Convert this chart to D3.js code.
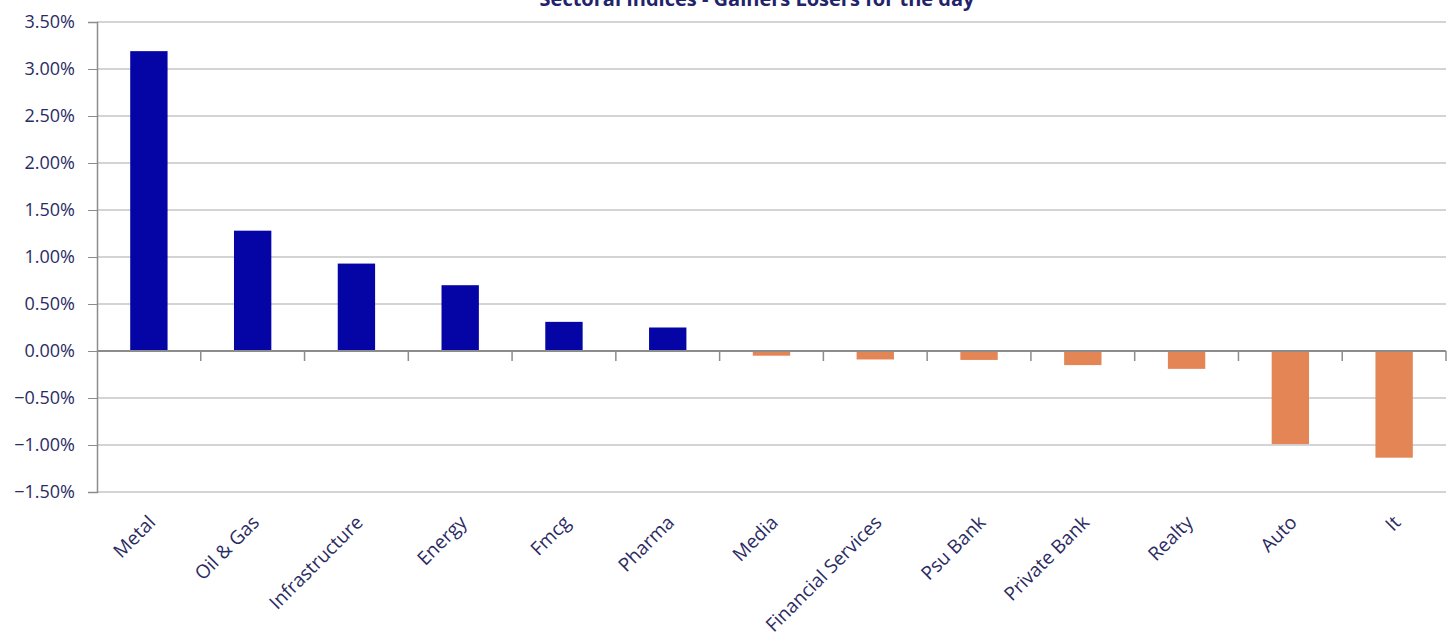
<!DOCTYPE html>
<html>
<head>
<meta charset="utf-8">
<script src="https://cdn.jsdelivr.net/npm/d3@7"></script>
<style>
  body { margin: 0; background: #fff; }
  svg { display: block; font-family: "Open Sans", "Noto Sans", sans-serif; }
</style>
</head>
<body>
<div id="chart"></div>
<script>
// sectors, in the order shown
var sectors = ["Metal", "Oil & Gas", "Infrastructure", "Energy", "Fmcg", "Pharma",
    "Media", "Financial Services", "Psu Bank", "Private Bank", "Realty", "Auto", "It"];
// daily change in percent
var changes = [3.19, 1.28, 0.93, 0.70, 0.31, 0.25,
    -0.05, -0.09, -0.095, -0.15, -0.19, -0.99, -1.135];
var yTicks = [-1.5, -1.0, -0.5, 0, 0.5, 1.0, 1.5, 2.0, 2.5, 3.0, 3.5];

var width = 1453, height = 636;
var plotLeft = 97, plotRight = 1446, plotTop = 22, plotBottom = 492;

var svg = d3.select("#chart")
    .append("svg")
    .attr("width", width)
    .attr("height", height);

var x = d3.scaleBand()
    .domain(sectors)
    .range([plotLeft, plotRight])
    .paddingInner(0.64)
    .paddingOuter(0.32);

var y = d3.scaleLinear()
    .domain([-1.5, 3.5])
    .range([plotBottom, plotTop]);

var textColor = "#2b2b63";

// title (partly cut off at the top)
svg.append("text")
    .attr("x", 757)
    .attr("y", 6)
    .attr("text-anchor", "middle")
    .style("font-size", "20px")
    .style("font-weight", "bold")
    .attr("fill", "#23236b")
    .text("Sectoral Indices - Gainers Losers for the day");

// gridlines
svg.append("g")
    .selectAll("line")
    .data(yTicks.filter(function(d) { return d !== 0; }))
    .enter()
    .append("line")
    .attr("x1", plotLeft)
    .attr("x2", plotRight)
    .attr("y1", function(d) { return y(d); })
    .attr("y2", function(d) { return y(d); })
    .attr("stroke", "#a9a9a9")
    .attr("stroke-width", 1);

// y axis
var yAxis = svg.append("g")
    .attr("transform", "translate(" + plotLeft + ",0)")
    .call(d3.axisLeft(y)
        .tickValues(yTicks)
        .tickSize(9)
        .tickPadding(13)
        .tickFormat(function(d) { return d3.format(".2f")(d) + "%"; }))
    .attr("font-family", null)
    .attr("font-size", null);
yAxis.select(".domain").attr("stroke", "#8c8c8c").attr("stroke-width", 1.5);
yAxis.selectAll(".tick line").attr("stroke", "#8c8c8c");
yAxis.selectAll(".tick text")
    .attr("fill", textColor)
    .style("font-size", "18px");

// bars
svg.append("g")
    .selectAll("rect")
    .data(sectors)
    .enter()
    .append("rect")
    .attr("x", function(d) { return x(d); })
    .attr("width", x.bandwidth())
    .attr("y", function(d, i) { return y(Math.max(0, changes[i])); })
    .attr("height", function(d, i) { return Math.abs(y(changes[i]) - y(0)); })
    .attr("fill", function(d, i) { return changes[i] >= 0 ? "#0505a6" : "#e38555"; });

// zero line with category separators
var step = x.step();
svg.append("line")
    .attr("x1", plotLeft)
    .attr("x2", plotRight)
    .attr("y1", y(0))
    .attr("y2", y(0))
    .attr("stroke", "#8c8c8c")
    .attr("stroke-width", 2);

svg.append("g")
    .selectAll("line")
    .data(sectors)
    .enter()
    .append("line")
    .attr("x1", function(d) { return x(d) + x.bandwidth() / 2 + step / 2; })
    .attr("x2", function(d) { return x(d) + x.bandwidth() / 2 + step / 2; })
    .attr("y1", y(0))
    .attr("y2", y(0) + 10)
    .attr("stroke", "#8c8c8c")
    .attr("stroke-width", 1.5);

// category labels
svg.append("g")
    .selectAll("text")
    .data(sectors)
    .enter()
    .append("text")
    .attr("transform", function(d) {
        var cx = x(d) + x.bandwidth() / 2 + 3;
        return "translate(" + cx + ",519) rotate(-45)";
    })
    .attr("text-anchor", "end")
    .attr("dy", "0.35em")
    .attr("fill", textColor)
    .style("font-size", "19px")
    .text(function(d) { return d; });
</script>
</body>
</html>
